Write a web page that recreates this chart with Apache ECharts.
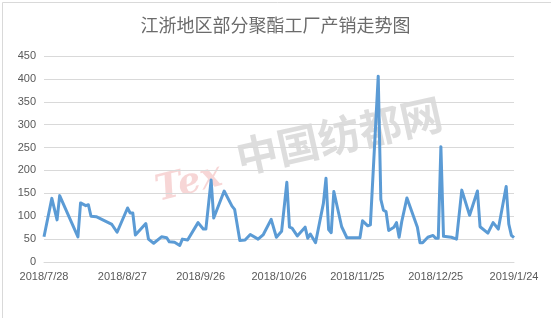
<!DOCTYPE html>
<html>
<head>
<meta charset="utf-8">
<script src="https://cdn.jsdelivr.net/npm/echarts@6/dist/echarts.min.js"></script>
<style>
html,body{margin:0;padding:0;background:#fff;}
#c{width:551px;height:318px;}
</style>
</head>
<body>
<div id="c"></div>
<script>
var title = '江浙地区部分聚酯工厂产销走势图';
var startDate = '2018/7/28';
var tickDays = [0, 30, 60, 90, 120, 150, 180];
var dates = ['2018/7/28','2018/7/31','2018/8/2','2018/8/3','2018/8/10','2018/8/11','2018/8/13','2018/8/14','2018/8/15','2018/8/17','2018/8/23','2018/8/25','2018/8/29','2018/8/30','2018/8/31','2018/9/1','2018/9/5','2018/9/6','2018/9/8','2018/9/11','2018/9/13','2018/9/14','2018/9/16','2018/9/18','2018/9/19','2018/9/21','2018/9/25','2018/9/27','2018/9/28','2018/9/30','2018/10/1','2018/10/5','2018/10/8','2018/10/9','2018/10/11','2018/10/13','2018/10/15','2018/10/18','2018/10/20','2018/10/23','2018/10/25','2018/10/27','2018/10/29','2018/10/30','2018/10/31','2018/11/2','2018/11/5','2018/11/6','2018/11/7','2018/11/9','2018/11/12','2018/11/13','2018/11/14','2018/11/15','2018/11/16','2018/11/19','2018/11/21','2018/11/23','2018/11/26','2018/11/27','2018/11/29','2018/11/30','2018/12/3','2018/12/4','2018/12/5','2018/12/6','2018/12/7','2018/12/9','2018/12/10','2018/12/11','2018/12/12','2018/12/14','2018/12/18','2018/12/19','2018/12/20','2018/12/22','2018/12/24','2018/12/25','2018/12/26','2018/12/27','2018/12/28','2018/12/31','2019/1/2','2019/1/4','2019/1/7','2019/1/10','2019/1/11','2019/1/14','2019/1/16','2019/1/18','2019/1/21','2019/1/22','2019/1/23','2019/1/24'];
var values = [55,139,92,145,55,129,123,125,100,99,82,65,118,107,107,59,84,50,41,55,53,44,43,36,50,48,86,72,72,179,96,155,122,115,47,48,60,50,60,93,54,67,174,76,74,57,76,52,61,42,128,183,71,64,154,77,53,53,53,90,79,81,406,137,113,110,69,76,86,54,88,140,76,42,42,54,58,52,52,252,56,54,50,157,102,155,77,63,86,72,165,83,58,53];
var yTicks = [0,50,100,150,200,250,300,350,400,450];

function toUTC(s){ var p = s.split('/'); return Date.UTC(+p[0], +p[1]-1, +p[2]); }
var DAY = 86400000;
var t0 = toUTC(startDate);
var seriesData = dates.map(function(d, i){ return [(toUTC(d) - t0) / DAY, values[i]]; });
function dayLabel(v){
  var dt = new Date(t0 + v * DAY);
  return dt.getUTCFullYear() + '/' + (dt.getUTCMonth()+1) + '/' + dt.getUTCDate();
}

var chart = echarts.init(document.getElementById('c'));
chart.setOption({
  animation: false,
  backgroundColor: '#fff',
  title: {
    text: title, left: 'center', top: 11,
    textStyle: { fontFamily: '"Noto Sans CJK SC", sans-serif', fontSize: 18, fontWeight: 'normal', color: '#6b6b6b' }
  },
  graphic: [
    { type: 'rect', left: 0, top: 0, shape: { width: 550, height: 317 }, style: { fill: 'none', stroke: '#d9d9d9', lineWidth: 1 }, silent: true, z: -1 },
    { type: 'text', left: 232, top: 92, rotation: 0.22, style: { text: '中国纺都网', font: 'bold 42px "Noto Sans CJK SC"', fill: 'rgba(150,150,150,0.32)' }, silent: true, z: -1 },
    { type: 'text', left: 152, top: 158, rotation: 0.25, style: { text: 'Tex', font: 'italic bold 36px "DejaVu Serif"', fill: 'rgba(230,120,120,0.3)' }, silent: true, z: -1 }
  ],
  grid: { left: 44, right: 37, top: 56, bottom: 56 },
  xAxis: {
    type: 'value', min: tickDays[0], max: tickDays[tickDays.length-1], interval: 30,
    axisLine: { show: true, lineStyle: { color: '#d9d9d9' } },
    axisTick: { show: false },
    splitLine: { show: false },
    axisLabel: { formatter: dayLabel, color: '#595959', fontSize: 11, fontFamily: '"Liberation Sans", sans-serif', margin: 9 }
  },
  yAxis: {
    type: 'value', min: yTicks[0], max: yTicks[yTicks.length-1], interval: 50,
    axisLine: { show: false }, axisTick: { show: false },
    splitLine: { lineStyle: { color: '#d9d9d9', width: 1 } },
    axisLabel: { color: '#595959', fontSize: 11, fontFamily: '"Liberation Sans", sans-serif', margin: 8 }
  },
  series: [{
    type: 'line', data: seriesData, showSymbol: false, symbol: 'none',
    lineStyle: { color: '#5b9bd5', width: 3, join: 'round' }
  }]
});
</script>
</body>
</html>
